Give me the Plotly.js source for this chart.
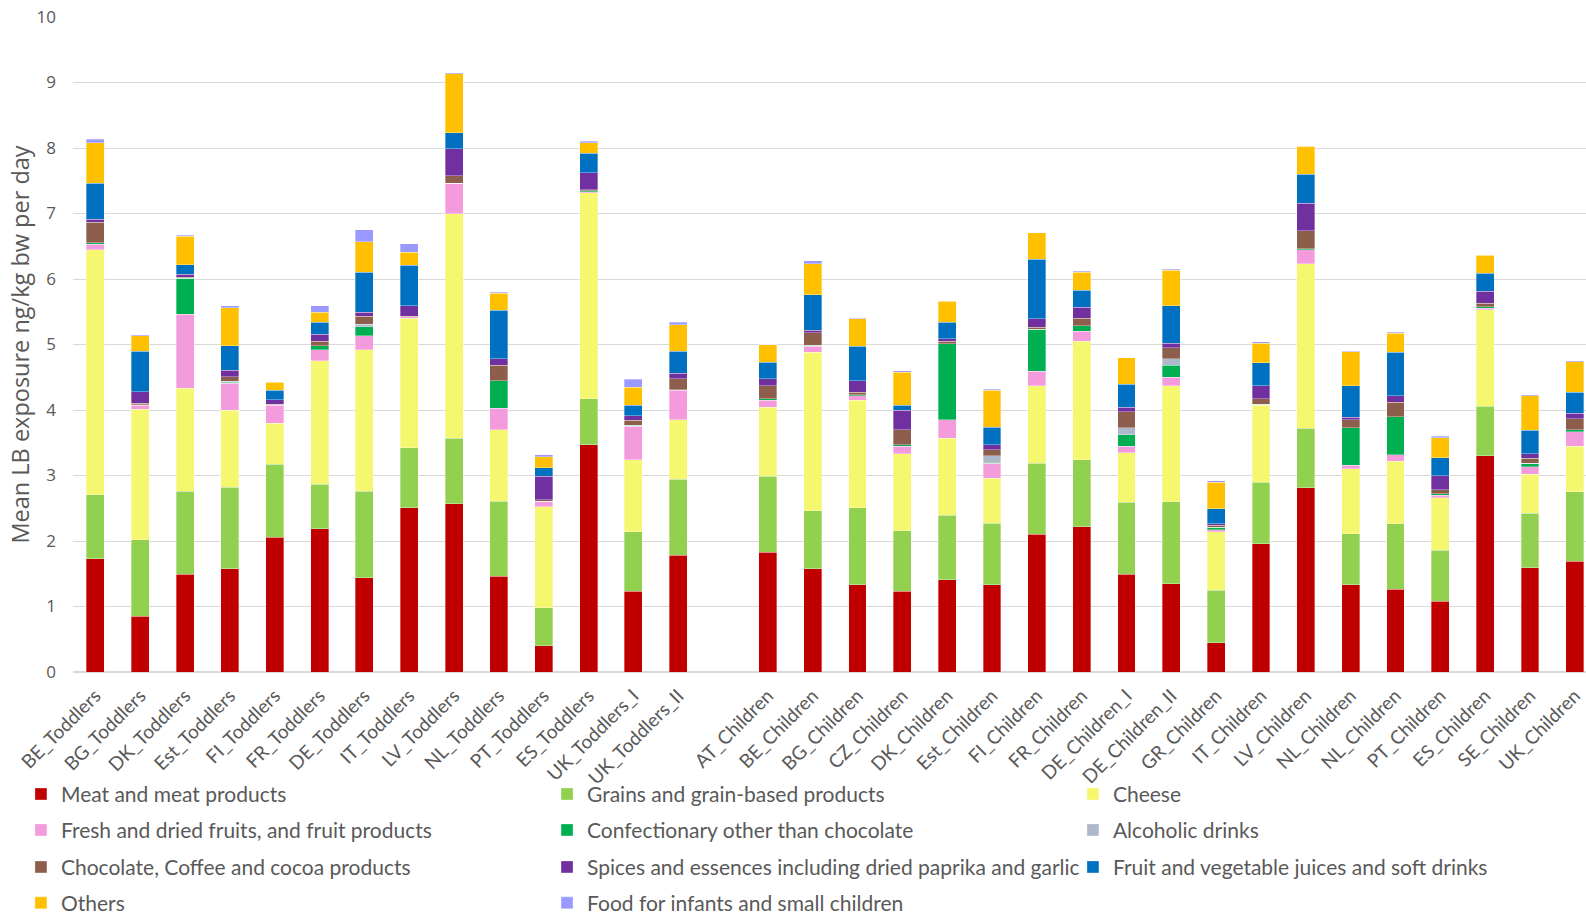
<!DOCTYPE html>
<html>
<head>
<meta charset="utf-8">
<script src="https://cdn.plot.ly/plotly-3.0.1.min.js"></script>
<style>html,body{margin:0;padding:0;background:#fff;}#chart{width:1586px;height:915px;}</style>
</head>
<body>
<div id="chart"></div>
<script>
// Category labels
var toddlers = ["BE_Toddlers","BG_Toddlers","DK_Toddlers","Est_Toddlers","FI_Toddlers","FR_Toddlers","DE_Toddlers","IT_Toddlers","LV_Toddlers","NL_Toddlers","PT_Toddlers","ES_Toddlers","UK_Toddlers_I","UK_Toddlers_II"];
var children = ["AT_Children","BE_Children","BG_Children","CZ_Children","DK_Children","Est_Children","FI_Children","FR_Children","DE_Children_I","DE_Children_II","GR_Children","IT_Children","LV_Children","NL_Children","NL_Children","PT_Children","ES_Children","SE_Children","UK_Children"];

// Series values (toddlers then children)
var meat = [1.73,0.85,1.49,1.58,2.06,2.19,1.44,2.51,2.57,1.46,0.40,3.47,1.23,1.78,
            1.83,1.58,1.33,1.23,1.41,1.33,2.10,2.22,1.49,1.35,0.45,1.96,2.81,1.33,1.26,1.08,3.30,1.59,1.69];
var grains = [0.98,1.17,1.27,1.24,1.11,0.68,1.32,0.91,1.00,1.15,0.58,0.70,0.91,1.16,
              1.16,0.88,1.18,0.93,0.98,0.94,1.09,1.02,1.10,1.25,0.80,0.94,0.91,0.78,1.00,0.78,0.76,0.83,1.06];
var cheese = [3.74,1.99,1.57,1.18,0.63,1.88,2.16,1.98,3.43,1.09,1.54,3.15,1.10,0.91,
              1.05,2.42,1.64,1.17,1.18,0.69,1.18,1.81,0.76,1.77,0.89,1.17,2.51,0.99,0.96,0.80,1.47,0.60,0.70];
var fruits = [0.08,0.06,1.13,0.41,0.27,0.17,0.21,0.02,0.46,0.33,0.09,0.01,0.51,0.45,
              0.11,0.09,0.07,0.12,0.28,0.23,0.22,0.15,0.10,0.13,0.03,0.01,0.22,0.06,0.10,0.04,0.02,0.11,0.22];
var confectionary = [0.02,0.01,0.55,0.01,0.01,0.06,0.14,0,0,0.42,0,0.02,0.02,0.01,
                     0.02,0.02,0.01,0.02,1.16,0.01,0.64,0.09,0.17,0.18,0.04,0.01,0.01,0.57,0.58,0.02,0.03,0.05,0.03];
var alcoholic = [0,0,0,0.02,0,0,0.04,0,0,0,0,0,0,0,
                 0,0,0,0,0,0.10,0,0,0.11,0.10,0,0,0,0,0,0,0,0.01,0];
var chocolate = [0.32,0.02,0.02,0.07,0.01,0.07,0.12,0.01,0.12,0.23,0.02,0.01,0.07,0.17,
                 0.20,0.19,0.04,0.23,0.04,0.09,0.03,0.11,0.24,0.17,0.03,0.08,0.28,0.12,0.22,0.06,0.05,0.07,0.17];
var spices = [0.04,0.18,0.04,0.10,0.07,0.11,0.06,0.16,0.41,0.10,0.36,0.26,0.07,0.08,
              0.11,0.04,0.18,0.30,0.04,0.08,0.13,0.17,0.07,0.07,0.02,0.20,0.42,0.04,0.10,0.22,0.18,0.07,0.08];
var juices = [0.55,0.62,0.15,0.37,0.14,0.18,0.61,0.62,0.24,0.74,0.13,0.30,0.16,0.34,
              0.25,0.54,0.52,0.07,0.25,0.27,0.91,0.26,0.35,0.57,0.23,0.35,0.44,0.48,0.66,0.27,0.28,0.36,0.32];
var others = [0.62,0.23,0.43,0.58,0.12,0.15,0.47,0.20,0.90,0.26,0.17,0.16,0.28,0.40,
              0.27,0.47,0.42,0.51,0.32,0.56,0.41,0.27,0.41,0.54,0.41,0.30,0.43,0.52,0.29,0.31,0.27,0.53,0.47];
var infants = [0.05,0.02,0.02,0.03,0.01,0.10,0.18,0.13,0.02,0.02,0.03,0.02,0.12,0.04,
               0,0.05,0.01,0.02,0.01,0.02,0,0.02,0,0.02,0.02,0.02,0,0.01,0.02,0.02,0.01,0.01,0.01];

var seriesNames = ["Meat and meat products","Grains and grain-based products","Cheese",
  "Fresh and dried fruits, and fruit products","Confectionary other than chocolate","Alcoholic drinks",
  "Chocolate, Coffee and cocoa products","Spices and essences including dried paprika and garlic","Fruit and vegetable juices and soft drinks",
  "Others","Food for infants and small children"];
var seriesValues = [meat,grains,cheese,fruits,confectionary,alcoholic,chocolate,spices,juices,others,infants];
var seriesColors = ["#C00000","#92D050","#F5F76E","#F39BDD","#00B050","#ADB9CA","#8C5E4B","#7030A0","#0070C0","#FFC000","#9999FF"];

// x positions: toddlers 0..13, one empty slot, children 15..33
var labels = toddlers.concat(children);
var xpos = [];
for (var i = 0; i < toddlers.length; i++) xpos.push(i);
for (var j = 0; j < children.length; j++) xpos.push(toddlers.length + 1 + j);

// one legend per entry, laid out in a 3-column grid (row-wise order)
var legCols = [-0.0344, 0.3133, 0.6609];
var legRows = [-0.1867, -0.2416, -0.2981, -0.3530];
var txtColor = "#595959";

var traces = seriesNames.map(function(name, k){
  return {
    type: "bar", name: name, x: xpos, y: seriesValues[k],
    marker: {color: seriesColors[k], line: {color: "rgba(255,255,255,0.55)", width: 0.6}},
    width: 0.4, legend: k === 0 ? "legend" : "legend" + (k + 1),
    customdata: labels, textposition: "none",
    hovertemplate: "%{customdata}<br>" + name + ": %{y}<extra></extra>"
  };
});

var layout = {
  width: 1586, height: 915,
  margin: {l: 73, r: 0, t: 16.5, b: 243.3, autoexpand: false},
  paper_bgcolor: "#fff", plot_bgcolor: "#fff",
  barmode: "stack",
  showlegend: true,
  xaxis: {
    range: [-0.5, 33.25], tickmode: "array", tickvals: xpos, ticktext: labels,
    tickangle: -45, showgrid: false, zeroline: false, showline: false, automargin: false,
    ticks: "", ticklabelstandoff: 8,
    tickfont: {family: "Lato, sans-serif", size: 19, color: txtColor}
  },
  yaxis: {
    range: [0, 10], dtick: 1, tick0: 0, gridcolor: "#D9D9D9", gridwidth: 1.3,
    zeroline: true, zerolinecolor: "#D9D9D9", zerolinewidth: 1.5, showline: false,
    automargin: false, ticks: "", ticklabelstandoff: 16,
    tickfont: {family: "Open Sans, sans-serif", size: 17, color: txtColor},
    title: {text: "Mean LB exposure ng/kg bw per day", standoff: 0,
      font: {family: "Open Sans, sans-serif", size: 23.5, color: txtColor}}
  }
};
for (var k = 0; k < seriesNames.length; k++) {
  var id = k === 0 ? "legend" : "legend" + (k + 1);
  layout[id] = {
    orientation: "h", x: legCols[k % 3], y: legRows[Math.floor(k / 3)],
    xanchor: "left", yanchor: "middle", bgcolor: "rgba(0,0,0,0)",
    font: {family: "Lato, sans-serif", size: 21, color: txtColor}
  };
}

Plotly.newPlot("chart", traces, layout, {displayModeBar: false});
</script>
</body>
</html>
